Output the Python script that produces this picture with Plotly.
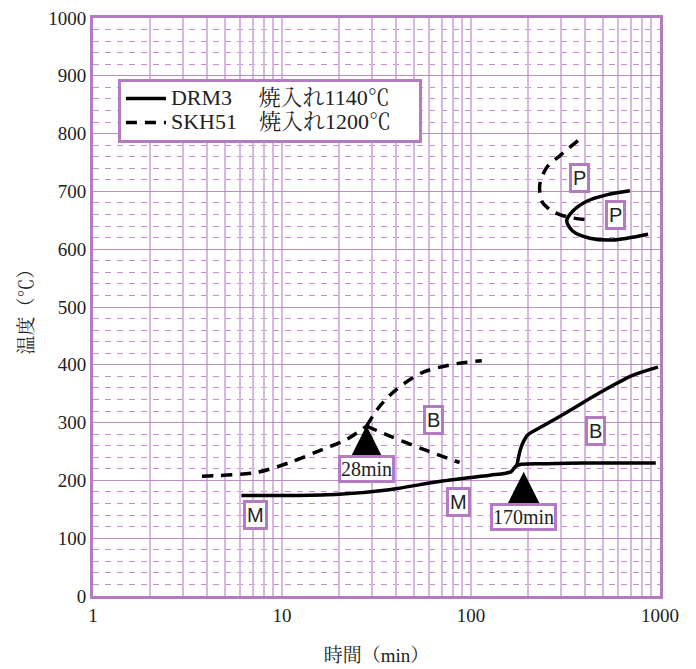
import plotly.graph_objects as go
import numpy as np

# ---- data ----
drm3_low_t = [6.1, 12, 20, 37, 68, 126, 150, 163, 172, 185, 250, 400, 650, 950]
drm3_low_T = [174, 174, 176, 184, 198, 209, 212, 215, 224, 228, 229, 230, 230, 230]
drm3_b_t = [175, 182, 190, 200, 240, 322, 482, 720, 976]
drm3_b_T = [226, 252, 268, 279, 294, 318, 352, 382, 396]
drm3_p_t = [693, 522, 410, 346, 321, 346, 426, 564, 865]
drm3_p_T = [701, 694, 683, 666, 649, 631, 619, 616, 626]

skh51_low_t = [3.77, 7.4, 11, 16.5, 22, 28]
skh51_low_T = [207, 214, 231, 254, 271, 294]
skh51_up_t = [28, 33, 40.5, 55.6, 84, 114]
skh51_up_T = [294, 329, 358, 387, 402, 407]
skh51_dn_t = [28, 37, 55.6, 87]
skh51_dn_T = [294, 277, 254, 231]
skh51_p_t = [368, 296, 251, 231, 237, 268, 321, 410]
skh51_p_T = [788, 762, 741, 711, 683, 666, 656, 651]

x_tickvals = [d * m for d in (1, 10, 100) for m in range(1, 10)] + [1000]
x_ticktext = [str(v) if v in (1, 10, 100, 1000) else "" for v in x_tickvals]

phase_labels = ["P", "P", "B", "B", "M", "M"]
phase_t = [377, 585, 63, 453, 7.2, 86]
phase_T = [723, 659, 304, 285, 141, 162]

arrow_labels = ["28min", "170min"]
arrow_t = [28, 190]
arrow_tip = [295, 215]
arrow_base = [240, 180]
arrow_label_T = [219, 136]

PURPLE = "#b47cc0"
GRID = "#d8b8de"
MINOR = "#c48ccc"
SERIF = "Liberation Serif, Noto Serif CJK JP, Noto Sans CJK JP, serif"


def big(s):
    return '<span style="font-size:22px">' + s + "\u00a0\u00a0\u00a0\u00a0</span>"


fig = go.Figure()
solid = dict(color="black", width=3.5, smoothing=0.8)
dashed = dict(color="black", width=3.5, dash="11px,8px", smoothing=0.8)

fig.add_trace(go.Scatter(x=drm3_low_t, y=drm3_low_T, mode="lines", line=solid, line_shape="spline",
                         name=big("DRM3\u2003\u2009焼入れ1140℃")))
fig.add_trace(go.Scatter(x=drm3_b_t, y=drm3_b_T, mode="lines", line=solid, line_shape="spline",
                         showlegend=False))
fig.add_trace(go.Scatter(x=drm3_p_t, y=drm3_p_T, mode="lines", line=solid, line_shape="spline",
                         showlegend=False))
fig.add_trace(go.Scatter(x=skh51_low_t, y=skh51_low_T, mode="lines", line=dashed, line_shape="spline",
                         name=big("SKH51\u2003焼入れ1200℃")))
fig.add_trace(go.Scatter(x=skh51_up_t, y=skh51_up_T, mode="lines", line=dashed, line_shape="spline",
                         showlegend=False))
fig.add_trace(go.Scatter(x=skh51_dn_t, y=skh51_dn_T, mode="lines", line=dashed, line_shape="spline",
                         showlegend=False))
fig.add_trace(go.Scatter(x=skh51_p_t, y=skh51_p_T, mode="lines", line=dashed, line_shape="spline",
                         showlegend=False))

for lab, t, T in zip(phase_labels, phase_t, phase_T):
    fig.add_annotation(x=np.log10(t), y=T, text=lab, showarrow=False,
                       font=dict(family="Liberation Sans, Arial", size=20, color="#222"),
                       bgcolor="white", bordercolor=PURPLE, borderwidth=3, borderpad=1)

for lab, t, tip, base, ly in zip(arrow_labels, arrow_t, arrow_tip, arrow_base, arrow_label_T):
    fig.add_annotation(x=np.log10(t), y=tip, ax=np.log10(t), ay=base, axref="x", ayref="y",
                       text="", showarrow=True, arrowhead=2, arrowwidth=7, arrowsize=1.0, arrowcolor="black")
    fig.add_annotation(x=np.log10(t), y=ly, text=lab, showarrow=False,
                       font=dict(family=SERIF, size=20, color="#222"),
                       bgcolor="white", bordercolor=PURPLE, borderwidth=3, borderpad=0)

fig.update_xaxes(type="log", range=[0, 3], tickvals=x_tickvals, ticktext=x_ticktext,
                 showgrid=True, gridcolor=GRID, gridwidth=2.2, automargin=False,
                 showline=True, linecolor=PURPLE, linewidth=3, mirror=True,
                 ticks="", zeroline=False, ticklabeloverflow="allow",
                 tickfont=dict(family=SERIF, size=19, color="#222"),
                 title=dict(text="時間（min）", font=dict(family=SERIF, size=19, color="#222"), standoff=24))
fig.update_yaxes(range=[0, 1000], dtick=100, showgrid=True, gridcolor="#b98cc2", gridwidth=1.2,
                 minor=dict(dtick=20, showgrid=True, gridcolor=MINOR, griddash="6px,6px", gridwidth=1.2),
                 showline=True, linecolor=PURPLE, linewidth=3, mirror=True, automargin=False,
                 ticks="", zeroline=False, ticklabeloverflow="allow",
                 tickfont=dict(family=SERIF, size=19, color="#222"),
                 title=dict(text="温度（℃）", font=dict(family=SERIF, size=19, color="#222"), standoff=10))

fig.update_layout(
    width=688, height=661,
    margin=dict(l=85, r=36, t=10, b=73),
    paper_bgcolor="white", plot_bgcolor="white",
    showlegend=True,
    legend=dict(x=0.044, y=0.895, xanchor="left", yanchor="top",
                bgcolor="white", bordercolor=PURPLE, borderwidth=3,
                font=dict(family=SERIF, size=16, color="#222"),
                tracegroupgap=0, itemwidth=40),
)

fig.write_html("out.html")
